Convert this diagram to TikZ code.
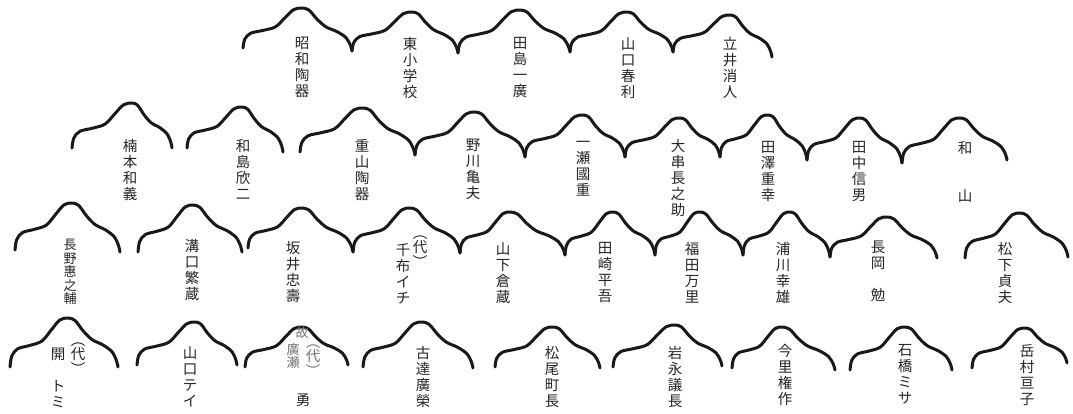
\documentclass[tikz,border=0pt]{standalone}
\usepackage{fontspec}
\newfontfamily\jp{Noto Sans CJK JP}
% mountain: left end (#1,#2), peak (#3,#4), right end (#5,#6)
\newcommand\mtn[6]{%
  \draw[mline] plot[smooth,tension=0.55] coordinates {
    (#1,#2)
    ({#1+0.03*(#3-#1)},{#2-0.22*(#2-#4)})
    ({#1+0.13*(#3-#1)},{#2-0.37*(#2-#4)})
    ({#1+0.34*(#3-#1)},{#2-0.44*(#2-#4)})
    ({#1+0.55*(#3-#1)},{#2-0.53*(#2-#4)})
    ({#1+0.72*(#3-#1)},{#2-0.77*(#2-#4)})
    ({#1+0.86*(#3-#1)},{#2-0.96*(#2-#4)})
    (#3,#4)
    ({#3+0.14*(#5-#3)},{#6-0.95*(#6-#4)})
    ({#3+0.30*(#5-#3)},{#6-0.74*(#6-#4)})
    ({#3+0.48*(#5-#3)},{#6-0.56*(#6-#4)})
    ({#3+0.70*(#5-#3)},{#6-0.45*(#6-#4)})
    ({#3+0.88*(#5-#3)},{#6-0.31*(#6-#4)})
    ({#3+0.97*(#5-#3)},{#6-0.13*(#6-#4)})
    (#5,#6)};}
\begin{document}
\begin{tikzpicture}[x=1pt,y=-1pt,
  mline/.style={line width=3pt,line cap=round,line join=round,black!90},
  lbl/.style={font=\jp\fontsize{14.5}{16}\selectfont,align=center,inner sep=0pt,anchor=north,text=black!85},
  small/.style={font=\jp\fontsize{13}{13.5}\selectfont},
  paren/.style={font=\jp\fontsize{14.5}{10.5}\selectfont,align=center,inner sep=0pt,anchor=north,text=black!85},
  faded/.style={text=black!55}]
\useasboundingbox[fill=white] (0,0) rectangle (1073,414);

% ---------- row 1 ----------
\mtn{243}{48}{302}{8}{352}{51}
\mtn{352}{51}{412}{12}{458}{53}
\mtn{458}{53}{520}{10}{570}{52}
\mtn{570}{52}{627}{12}{673}{52}
\mtn{673}{52}{730}{15}{772}{57}

% ---------- row 2 ----------
\mtn{72}{148}{132}{103}{172}{148}
\mtn{187}{148}{242}{107}{283}{152}
\mtn{300}{152}{363}{108}{415}{155}
\mtn{415}{155}{475}{112}{525}{157}
\mtn{525}{157}{583}{115}{625}{157}
\mtn{625}{157}{680}{118}{720}{157}
\mtn{720}{157}{768}{115}{807}{160}
\mtn{807}{160}{860}{118}{902}{163}
\mtn{902}{163}{960}{118}{1007}{160}

% ---------- row 3 ----------
\mtn{15}{250}{72}{203}{120}{252}
\mtn{138}{252}{193}{205}{242}{252}
\mtn{248}{248}{302}{208}{353}{252}
\mtn{353}{252}{410}{208}{460}{253}
\mtn{460}{253}{510}{212}{565}{255}
\mtn{565}{255}{613}{212}{655}{255}
\mtn{655}{255}{700}{212}{743}{255}
\mtn{743}{255}{790}{212}{830}{257}
\mtn{830}{257}{887}{217}{937}{258}
\mtn{965}{258}{1020}{213}{1068}{257}

% ---------- row 4 ----------
\mtn{10}{367}{68}{318}{118}{367}
\mtn{137}{365}{195}{322}{237}{365}
\mtn{245}{367}{302}{327}{348}{365}
\mtn{363}{367}{422}{322}{473}{368}
\mtn{495}{367}{553}{327}{600}{368}
\mtn{613}{367}{675}{325}{722}{366}
\mtn{732}{368}{782}{327}{835}{370}
\mtn{850}{370}{905}{327}{952}{370}
\mtn{972}{368}{1025}{328}{1067}{363}

% ---------- labels row 1 ----------
\node[lbl] (a1) at (302,37) {昭\\和\\陶\\器};
\node[lbl] (a2) at (410,37) {東\\小\\学\\校};
\node[lbl] (a3) at (520,37) {田\\島\\一\\廣};
\node[lbl] (a4) at (628,37) {山\\口\\春\\利};
\node[lbl] (a5) at (730,37) {立\\井\\消\\人};

% ---------- labels row 2 ----------
\node[lbl] (b1) at (130,139) {楠\\本\\和\\義};
\node[lbl] (b2) at (243,139) {和\\島\\欣\\二};
\node[lbl] (b3) at (362,139) {重\\山\\陶\\器};
\node[lbl] (b4) at (473,139) {野\\川\\亀\\夫};
\node[lbl] (b5) at (583,141) {一\\瀬\\國\\重};
\node[lbl] (b6) at (678,139) {大\\串\\長\\之\\助};
\node[lbl] (b7) at (768,141) {田\\澤\\重\\幸};
\node[lbl] (b8) at (859,141) {田\\中\\信\\男};
\node[lbl] (b9) at (965,141) {和\\\mbox{}\\\mbox{}\\山};

% ---------- labels row 3 ----------
\node[lbl,small] (c1) at (70,239) {長\\野\\惠\\之\\輔};
\node[lbl] (c2) at (192,239) {溝\\口\\繁\\蔵};
\node[lbl] (c3) at (293,241) {坂\\井\\忠\\壽};
\node[lbl] (c4) at (403,243) {千\\布\\イ\\チ};
\node[paren] (c4p) at (420,236) {︵\\代\\︶};
\node[lbl] (c5) at (503,242) {山\\下\\倉\\蔵};
\node[lbl] (c6) at (605,242) {田\\崎\\平\\吾};
\node[lbl] (c7) at (692,242) {福\\田\\万\\里};
\node[lbl] (c8) at (783,242) {浦\\川\\幸\\雄};
\node[lbl] (c9) at (878,241) {長\\岡\\\mbox{}\\勉};
\node[lbl] (c10) at (1005,242) {松\\下\\貞\\夫};

% ---------- labels row 4 ----------
\node[lbl] (d1) at (58,348) {開\\\mbox{}\\ト\\ミ};
\node[paren] (d1p) at (78,343) {︵\\代\\︶};
\node[lbl,faded,small] (d3a) at (302,326) {故};
\node[lbl,faded,small] (d3b) at (293,343) {廣\\瀬};
\node[paren,faded] (d3p) at (313,345) {︵\\代\\︶};
\node[lbl] (d3c) at (303,394) {勇};
\node[lbl] (d2) at (190,346) {山\\口\\テ\\イ};
\node[lbl] (d4) at (423,346) {古\\達\\廣\\榮};
\node[lbl] (d5) at (552,346) {松\\尾\\町\\長};
\node[lbl] (d6) at (675,346) {岩\\永\\議\\長};
\node[lbl] (d7) at (785,344) {今\\里\\権\\作};
\node[lbl] (d8) at (905,344) {石\\橋\\ミ\\サ};
\node[lbl] (d9) at (1027,344) {岳\\村\\亘\\子};
\end{tikzpicture}
\end{document}
